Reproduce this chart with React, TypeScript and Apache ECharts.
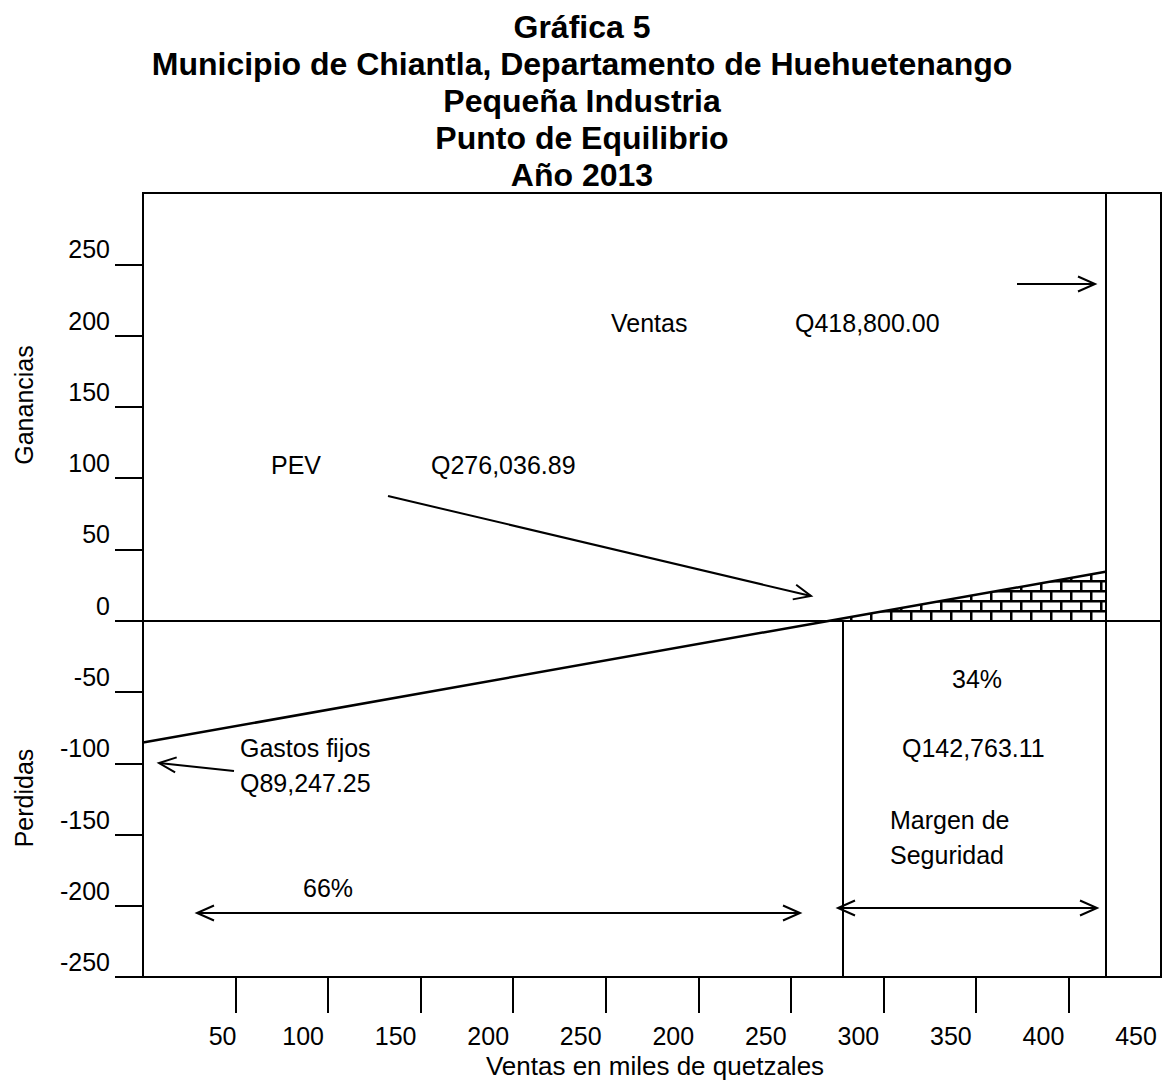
import React, { useEffect, useRef } from "react";
import * as echarts from "echarts";

// ---------- data ----------
const titleLines = [
  "Gráfica 5",
  "Municipio de Chiantla, Departamento de Huehuetenango",
  "Pequeña Industria",
  "Punto de Equilibrio",
  "Año 2013",
];

const xTickValues = [50, 100, 150, 200, 250, 300, 350, 400, 450, 500];
const xLabelValues = [50, 100, 150, 200, 250, 300, 350, 400, 450, 500, 550];
const xTickLabels = ["50", "100", "150", "200", "250", "200", "250", "300", "350", "400", "450"];
const yTickValues = [-250, -200, -150, -100, -50, 0, 50, 100, 150, 200, 250];

// result line (loss -> break even -> profit)
const resultLineX = [0, 371, 520];
const resultLineY = [-85.5, 0, 34.3];
// hatched profit area (safety margin)
const safetyAreaX = [378, 520];
const safetyAreaY = [1.6, 34.3];
// vertical reference lines
const marginLineX = [378];
const salesLineX = [520];

// ---------- annotation layout (pixels) ----------
const FONT = "'Liberation Sans', Arial, sans-serif";
const annotations = [
  { text: "Ventas", x: 611, y: 323, align: "left" },
  { text: "Q418,800.00", x: 795, y: 323, align: "left" },
  { text: "PEV", x: 271, y: 465, align: "left" },
  { text: "Q276,036.89", x: 431, y: 465, align: "left" },
  { text: "Gastos fijos", x: 240, y: 748, align: "left" },
  { text: "Q89,247.25", x: 240, y: 783, align: "left" },
  { text: "34%", x: 977, y: 679, align: "center" },
  { text: "Q142,763.11", x: 902, y: 748, align: "left" },
  { text: "Margen de", x: 890, y: 820, align: "left" },
  { text: "Seguridad", x: 890, y: 855, align: "left" },
  { text: "66%", x: 328, y: 888, align: "center" },
];
const arrows = [
  { from: [1017, 284], to: [1095, 284], both: false },
  { from: [388, 496], to: [811, 596], both: false },
  { from: [234, 771], to: [159, 763], both: false },
  { from: [197, 913], to: [800, 913], both: true },
  { from: [838, 908], to: [1097, 908], both: true },
];

function arrowHead(tip: number[], tail: number[]) {
  const dx = tip[0] - tail[0];
  const dy = tip[1] - tail[1];
  const len = Math.sqrt(dx * dx + dy * dy);
  const ux = dx / len;
  const uy = dy / len;
  const L = 17;
  const W = 7.5;
  return {
    type: "polyline",
    shape: {
      points: [
        [tip[0] - L * ux - W * uy, tip[1] - L * uy + W * ux],
        [tip[0], tip[1]],
        [tip[0] - L * ux + W * uy, tip[1] - L * uy - W * ux],
      ],
    },
    style: { stroke: "#000", lineWidth: 2, fill: null },
    silent: true,
  };
}

function makeBrickPattern() {
  const w = 40;
  const h = 20;
  const c = document.createElement("canvas");
  c.width = w;
  c.height = h;
  const ctx = c.getContext("2d")!;
  ctx.fillStyle = "#fff";
  ctx.fillRect(0, 0, w, h);
  ctx.fillStyle = "#000";
  ctx.fillRect(0, 0, w, 2.5);
  ctx.fillRect(0, 10, w, 2.5);
  ctx.fillRect(0, 0, 2.5, 10);
  ctx.fillRect(20, 0, 2.5, 10);
  ctx.fillRect(10, 10, 2.5, 10);
  ctx.fillRect(30, 10, 2.5, 10);
  return { image: c.toDataURL(), repeat: "repeat", imageWidth: w, imageHeight: h };
}

export default function App() {
  const ref = useRef<HTMLDivElement>(null);

  useEffect(() => {
    if (!ref.current) return;
    const chart = echarts.init(ref.current, undefined, { renderer: "svg" });

    const graphic: any[] = [];
    titleLines.forEach((t, i) => {
      graphic.push({
        type: "text",
        x: 582,
        y: 26.5 + 37 * i,
        silent: true,
        style: {
          text: t,
          fill: "#000",
          fontSize: 32,
          fontWeight: "bold",
          fontFamily: FONT,
          align: "center",
          verticalAlign: "middle",
        },
      });
    });
    annotations.forEach((a) => {
      graphic.push({
        type: "text",
        x: a.x,
        y: a.y,
        silent: true,
        style: {
          text: a.text,
          fill: "#000",
          fontSize: 25,
          fontFamily: FONT,
          align: a.align,
          verticalAlign: "middle",
        },
      });
    });
    graphic.push({
      type: "text",
      x: 24,
      y: 405,
      rotation: Math.PI / 2,
      silent: true,
      style: { text: "Ganancias", fill: "#000", fontSize: 25, fontFamily: FONT, align: "center", verticalAlign: "middle" },
    });
    graphic.push({
      type: "text",
      x: 24,
      y: 798,
      rotation: Math.PI / 2,
      silent: true,
      style: { text: "Perdidas", fill: "#000", fontSize: 25, fontFamily: FONT, align: "center", verticalAlign: "middle" },
    });
    arrows.forEach((a) => {
      graphic.push({
        type: "line",
        shape: { x1: a.from[0], y1: a.from[1], x2: a.to[0], y2: a.to[1] },
        style: { stroke: "#000", lineWidth: 2 },
        silent: true,
      });
      graphic.push(arrowHead(a.to, a.from));
      if (a.both) graphic.push(arrowHead(a.from, a.to));
    });

    const option: any = {
      animation: false,
      backgroundColor: "#fff",
      grid: {
        left: 143,
        top: 193,
        right: 2,
        bottom: 106,
        show: true,
        borderColor: "#000",
        borderWidth: 2,
        backgroundColor: "transparent",
      },
      xAxis: {
        type: "value",
        min: 0,
        max: 550,
        interval: 50,
        splitLine: { show: false },
        axisLine: { onZero: false, lineStyle: { color: "#000", width: 2 } },
        axisTick: { customValues: xTickValues, length: 36, lineStyle: { color: "#000", width: 2 } },
        axisLabel: {
          customValues: xLabelValues,
          margin: 46,
          color: "#000",
          fontSize: 25,
          fontFamily: FONT,
          formatter: (v: number) => {
            const idx = Math.round(v / 50) - 1;
            const t = xTickLabels[idx] ?? "";
            return idx === 0 ? `{f|${t}}` : `{n|${t}}`;
          },
          rich: {
            f: { fontSize: 25, fontFamily: FONT, color: "#000", padding: [0, 26, 0, 0] },
            n: { fontSize: 25, fontFamily: FONT, color: "#000", padding: [0, 50, 0, 0] },
          },
        },
        name: "Ventas en miles de quetzales",
        nameLocation: "middle",
        nameGap: 73,
        nameTextStyle: { fontSize: 26, color: "#000", fontFamily: FONT, padding: [0, 0, 0, 6] },
      },
      yAxis: {
        type: "value",
        min: -250,
        max: 300,
        interval: 50,
        splitLine: { show: false },
        axisLine: { onZero: false, lineStyle: { color: "#000", width: 2 } },
        axisTick: { customValues: yTickValues, length: 28, lineStyle: { color: "#000", width: 2 } },
        axisLabel: {
          customValues: yTickValues,
          margin: 33,
          color: "#000",
          fontSize: 25,
          fontFamily: FONT,
          verticalAlign: "bottom",
          lineHeight: 30,
        },
      },
      graphic,
      series: [
        {
          type: "line",
          name: "Margen",
          data: safetyAreaX.map((x, i) => [x, safetyAreaY[i]]),
          symbol: "none",
          lineStyle: { width: 0 },
          areaStyle: { color: makeBrickPattern(), opacity: 1, origin: "auto" },
          silent: true,
          z: 1,
        },
        {
          type: "line",
          name: "Resultado",
          data: resultLineX.map((x, i) => [x, resultLineY[i]]),
          symbol: "none",
          lineStyle: { color: "#000", width: 2.5 },
          silent: true,
          z: 3,
          markLine: {
            silent: true,
            symbol: ["none", "none"],
            label: { show: false },
            lineStyle: { type: "solid", color: "#000", width: 2 },
            data: [
              { yAxis: 0 },
              [{ coord: [marginLineX[0], 0] }, { coord: [marginLineX[0], -250] }],
              { xAxis: salesLineX[0] },
            ],
          },
        },
      ],
    };
    chart.setOption(option);
    return () => chart.dispose();
  }, []);

  return (
    <div
      ref={ref}
      style={{ position: "absolute", left: 0, top: 0, width: 1163, height: 1084, background: "#fff" }}
    />
  );
}
